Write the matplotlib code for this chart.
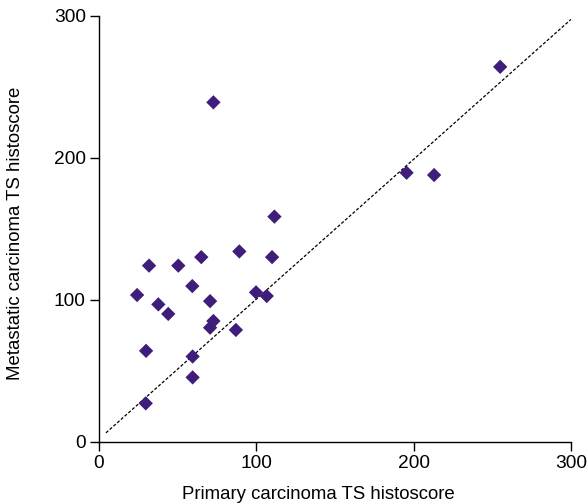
import numpy as np
import matplotlib
matplotlib.use("Agg")
import matplotlib.pyplot as plt

plt.rcParams['font.family'] = ['Liberation Sans', 'DejaVu Sans']

# primary vs metastatic TS histoscore
primary = [255, 195.5, 213, 72.7, 111.5, 89.2, 65, 110, 31.8, 50.4,
           59.3, 24.2, 99.8, 106.6, 70.6, 37.7, 44, 72.7, 70.6, 87,
           29.9, 59.5, 59.5, 29.7]
metastatic = [264, 189.4, 187.8, 239, 158.5, 134, 130, 130, 124, 124,
              109.6, 103.3, 105.2, 102.6, 99, 96.7, 90, 85, 80.3, 78.7,
              64, 60, 45.3, 27]

# dashed reference line
line_x = [4.4, 300]
slope = 0.985
intercept = 1.9

fig = plt.figure(figsize=(5.87, 5.04), dpi=100)
ax = fig.add_axes([0.1687, 0.1236, 0.8040, 0.8452])

ax.scatter(primary, metastatic, marker='D', s=7.3**2, color='#3f1d7b',
           edgecolors='none', zorder=3)
lx = np.array(line_x)
ax.plot(lx, slope * lx + intercept, color='black', linestyle=(0, (2.5, 1.5)),
        linewidth=0.9, zorder=2)

ax.set_xlim(0, 300)
ax.set_ylim(0, 300)
ax.set_xticks([0, 100, 200, 300])
ax.set_yticks([0, 100, 200, 300])
for s in ['top', 'right']:
    ax.spines[s].set_visible(False)
for s in ['left', 'bottom']:
    ax.spines[s].set_linewidth(1.0)
ax.tick_params(direction='out', length=6.5, width=1.0, labelsize=13.8, pad=3)

ax.set_xlabel('Primary carcinoma TS histoscore', fontsize=13.4)
ax.xaxis.set_label_coords(0.464, -0.103)
ax.set_ylabel('Metastatic carcinoma TS histoscore', fontsize=13.4)
ax.yaxis.set_label_coords(-0.158, 0.49)

fig.savefig('out.png', dpi=100)
